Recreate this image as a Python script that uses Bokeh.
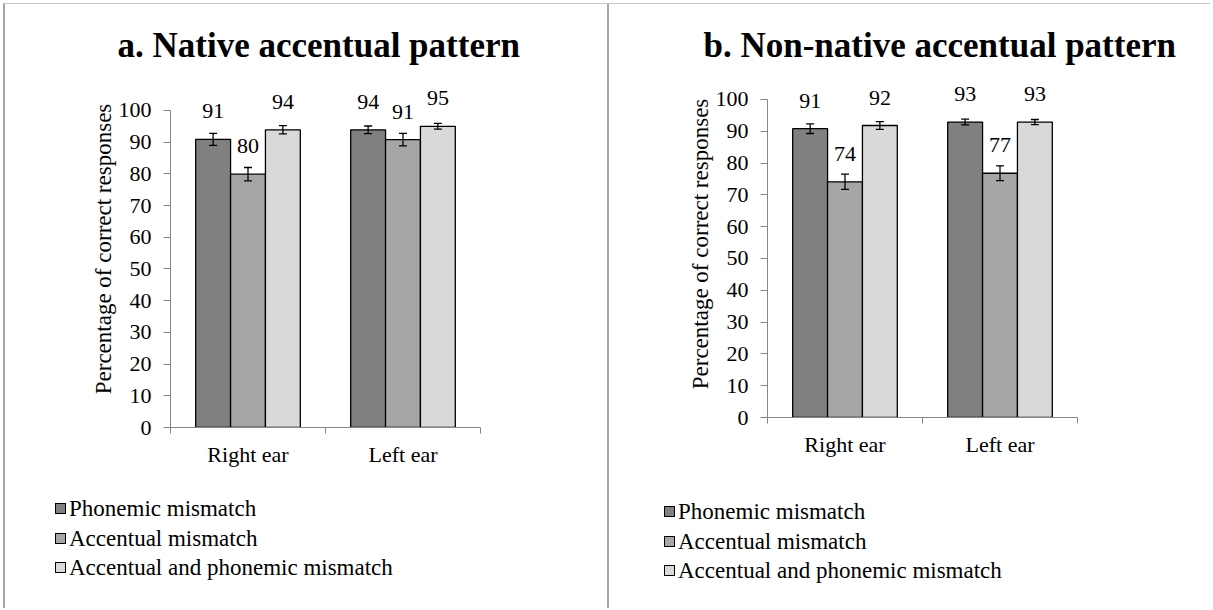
from bokeh.plotting import figure
from bokeh.models import (ColumnDataSource, Range1d, LinearAxis, FixedTicker, Whisker,
                          LabelSet, TeeHead, Title, Div)
from bokeh.transform import dodge
from bokeh.layouts import row, column
from bokeh.embed import file_html
from bokeh.resources import INLINE

# ---------------- data ----------------
ears = ["Right ear", "Left ear"]
series = ["Phonemic mismatch", "Accentual mismatch", "Accentual and phonemic mismatch"]
y_ticks = [0, 10, 20, 30, 40, 50, 60, 70, 80, 90, 100]

native_phonemic = [90.9, 93.9]
native_accentual = [79.9, 90.8]
native_both = [93.9, 95.0]
native_phonemic_err = [1.9, 1.2]
native_accentual_err = [2.1, 2.0]
native_both_err = [1.3, 0.9]

nonnative_phonemic = [90.8, 92.9]
nonnative_accentual = [74.1, 76.8]
nonnative_both = [91.8, 92.9]
nonnative_phonemic_err = [1.5, 0.9]
nonnative_accentual_err = [2.4, 2.3]
nonnative_both_err = [1.2, 0.8]

# ---------------- style ----------------
colors = ["#808080", "#a6a6a6", "#d9d9d9"]
AXIS_GREY = "#868686"
FONT = "Liberation Serif"
BAR_W = 0.225

n = len(ears)
centers = [i + 0.5 for i in range(n)]
edges = [float(i) for i in range(n + 1)]

MAIN_H = 476
LEG_H = 128


def make_legend(width, pad_left, pad_top):
    rows_html = ""
    for s, c in zip(series, colors):
        rows_html += (
            '<div style="white-space:nowrap;">'
            f'<span style="display:inline-block;width:11px;height:11px;background:{c};'
            'border:1px solid black;margin-right:3px;vertical-align:2px;"></span>'
            f'{s}</div>')
    html = (f'<div style="font-family:\'{FONT}\';font-size:23px;line-height:29.5px;'
            f'color:black;padding-left:{pad_left}px;padding-top:{pad_top}px;">'
            f'{rows_html}</div>')
    return Div(text=html, width=width, height=LEG_H, margin=0)


def make_panel(title_text, vals, errs, left, right, frame_h, y_end,
               title_offset, leg_pad_left, leg_pad_top):
    width = left + 310 + right
    p = figure(x_range=Range1d(0, n), y_range=Range1d(0, y_end),
               frame_width=310, frame_height=frame_h,
               min_border_left=left, min_border_top=66, min_border_right=right,
               min_border_bottom=MAIN_H - 66 - frame_h,
               x_axis_location=None, y_axis_location=None, title=None,
               toolbar_location=None, output_backend="svg")
    p.outline_line_color = None
    p.background_fill_color = "white"
    p.border_fill_color = "white"
    p.grid.grid_line_color = None

    data = dict(ear=ears, xc=centers)
    for i in range(3):
        data[f"v{i}"] = vals[i]
        data[f"u{i}"] = [v + e for v, e in zip(vals[i], errs[i])]
        data[f"l{i}"] = [v - e for v, e in zip(vals[i], errs[i])]
        data[f"t{i}"] = [str(int(round(v))) for v in vals[i]]
    src = ColumnDataSource(data)

    # y axis (drawn only from 0 to 100)
    yaxis = LinearAxis(ticker=FixedTicker(ticks=y_ticks), bounds=(0, 100),
                       axis_label="Percentage of correct responses",
                       axis_label_text_font=FONT, axis_label_text_font_size="23px",
                       axis_label_text_font_style="normal", axis_label_text_color="black",
                       axis_label_standoff=0,
                       major_label_text_font=FONT, major_label_text_font_size="22px",
                       major_label_text_color="black", major_label_standoff=12,
                       axis_line_color=AXIS_GREY, major_tick_line_color=AXIS_GREY,
                       major_tick_out=7, major_tick_in=0, minor_tick_line_color=None)
    p.add_layout(yaxis, "left")

    # x axis: category labels at centres, ticks at category boundaries
    xaxis = LinearAxis(ticker=FixedTicker(ticks=centers, minor_ticks=edges),
                       major_label_overrides={c: e for c, e in zip(centers, ears)},
                       major_label_text_font=FONT, major_label_text_font_size="22px",
                       major_label_text_color="black", major_label_standoff=8,
                       axis_line_color=AXIS_GREY, major_tick_line_color=None,
                       minor_tick_line_color=AXIS_GREY, minor_tick_out=6, minor_tick_in=0)
    p.add_layout(xaxis, "below")

    for i in range(3):
        off = (i - 1) * BAR_W
        p.vbar(x=dodge("xc", off), top=f"v{i}", width=BAR_W,
               source=src, fill_color=colors[i], line_color="black", line_width=1.3)
        w = Whisker(base=dodge("xc", off), upper=f"u{i}", lower=f"l{i}",
                    source=src, line_color="black", line_width=1.3, level="overlay",
                    upper_head=TeeHead(size=8, line_color="black", line_width=1.3),
                    lower_head=TeeHead(size=8, line_color="black", line_width=1.3))
        p.add_layout(w)
        lbl = LabelSet(x=dodge("xc", off), y=f"v{i}", text=f"t{i}",
                       source=src, text_align="center", text_baseline="middle",
                       y_offset=28, text_font=FONT, text_font_size="22px",
                       text_color="black")
        p.add_layout(lbl)

    title = Title(text=title_text, align="left", offset=title_offset, standoff=12,
                  text_font=FONT, text_font_size="35px", text_font_style="bold",
                  text_color="black")
    p.add_layout(title, "above")

    lg = make_legend(width, leg_pad_left, leg_pad_top)
    return p, lg


p1, l1 = make_panel("a. Native accentual pattern",
                    [native_phonemic, native_accentual, native_both],
                    [native_phonemic_err, native_accentual_err, native_both_err],
                    left=165, right=127, frame_h=357, y_end=112.6,
                    title_offset=-53, leg_pad_left=50, leg_pad_top=14)
p2, l2 = make_panel("b. Non-native accentual pattern",
                    [nonnative_phonemic, nonnative_accentual, nonnative_both],
                    [nonnative_phonemic_err, nonnative_accentual_err, nonnative_both_err],
                    left=158, right=133, frame_h=347, y_end=109.1,
                    title_offset=-64, leg_pad_left=55, leg_pad_top=17)

col1 = column(p1, l1, styles={"border-right": "2px solid #a6a6a6"})
col2 = column(p2, l2)
layout = row(col1, col2, margin=(3, 0, 0, 3),
             styles={"border-top": "1px solid #c8c8c8", "border-left": "2px solid #a6a6a6"})
open("out.html", "w").write(file_html(layout, INLINE))
